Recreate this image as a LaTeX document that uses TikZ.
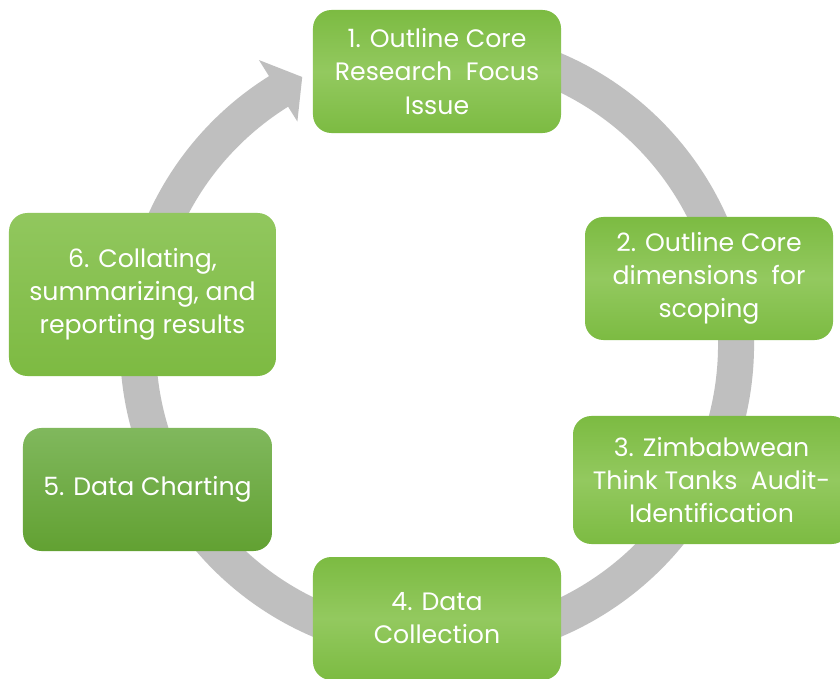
\documentclass[tikz,border=0pt]{standalone}
\usepackage{fontspec}
\setmainfont{Poppins}
\definecolor{ringgray}{HTML}{BFBFBF}
\definecolor{gA}{HTML}{7CBB42}
\definecolor{gB}{HTML}{93C95F}
\definecolor{gC}{HTML}{91C75E}
\definecolor{gD}{HTML}{7DBA42}
\definecolor{gE}{HTML}{80B85D}
\definecolor{gF}{HTML}{62A132}
\begin{document}
\begin{tikzpicture}[x=0.03cm,y=0.03cm,
  box/.style={rectangle, rounded corners=0.55cm, inner sep=0pt, text=white, align=center,
    font=\fontsize{21.5}{28.2}\selectfont},
  gmid/.style={top color=gA, bottom color=gA, middle color=gB},
  glight/.style={top color=gC, bottom color=gD},
  gdark/.style={top color=gE, bottom color=gF}]
\clip (0,0) rectangle (840,-679);
\fill[white] (0,0) rectangle (840,-679);
\begin{scope}[shift={(437,-345)}]
\fill[ringgray] (80:317) arc[start angle=80,end angle=-238,radius=317]
  -- (-238:336) -- (116.7:300) -- (-238:263.5) -- (-238:281)
  arc[start angle=-238,end angle=80,radius=281] -- cycle;
\end{scope}
\node[box, gmid, minimum width=7.44cm, minimum height=3.69cm] (n1) at (437,-71.5)
  {1. Outline Core\\Research\ \ Focus\\Issue};
\node[box, gmid, minimum width=7.44cm, minimum height=3.69cm] (n2) at (709,-278.5)
  {2. Outline Core\\dimensions\ \ for\\scoping};
\node[box, gmid, minimum width=8.31cm, minimum height=3.84cm] (n3) at (711.5,-480)
  {3. Zimbabwean\\Think Tanks\ \ Audit-\\Identification};
\node[box, gmid, minimum width=7.44cm, minimum height=3.69cm] (n4) at (437,-618.5)
  {4. Data\\Collection};
\node[box, gdark, minimum width=7.47cm, minimum height=3.69cm] (n5) at (147.5,-489.5)
  {5. Data Charting};
\node[box, glight, minimum width=8.01cm, minimum height=4.89cm] (n6) at (142.5,-294.5)
  {6. Collating,\\summarizing, and\\reporting results};
\end{tikzpicture}
\end{document}
